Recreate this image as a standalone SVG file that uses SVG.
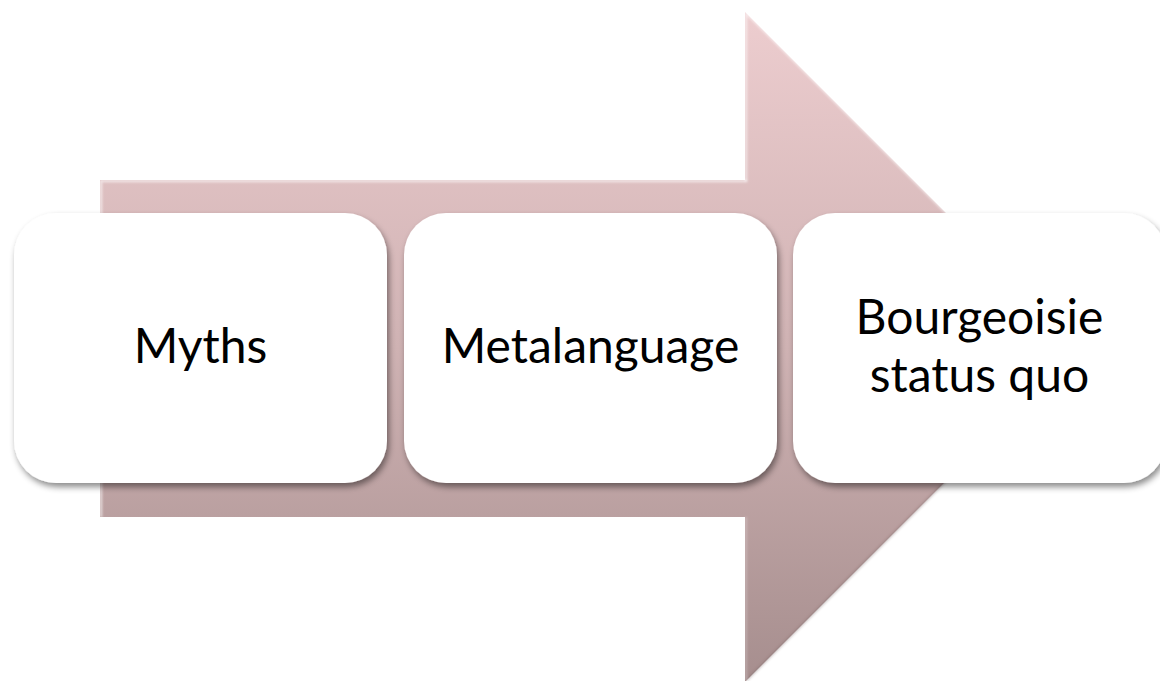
<svg xmlns="http://www.w3.org/2000/svg" width="1160" height="681" viewBox="0 0 1160 681">
  <defs>
    <linearGradient id="arrowFill" gradientUnits="userSpaceOnUse" x1="0" y1="12" x2="0" y2="682">
      <stop offset="0" stop-color="#edcdcf"/>
      <stop offset="0.5" stop-color="#cfb2b3"/>
      <stop offset="1" stop-color="#a68e8e"/>
    </linearGradient>
    <filter id="boxShadow" x="-10%" y="-10%" width="125%" height="130%">
      <feDropShadow dx="2" dy="4" stdDeviation="3" flood-color="#000" flood-opacity="0.45"/>
    </filter>
    <filter id="soft" x="-5%" y="-5%" width="110%" height="110%">
      <feGaussianBlur stdDeviation="0.8"/>
    </filter>
  </defs>
  <style>
    .box { fill: #ffffff; filter: url(#boxShadow); }
    .label { font-family: Lato, "Open Sans", sans-serif; font-size: 48px; fill: #000; text-anchor: middle; }
  </style>

  <!-- background process arrow -->
  <g id="arrow">
    <polygon points="100,180 745,180 745,12 1080,347 745,682 745,517 100,517" fill="url(#arrowFill)"/>
    <!-- bevel highlights on the upper and left edges -->
    <g filter="url(#soft)" fill="none" stroke-linecap="square">
      <polyline points="101,516 101,181 746,181" stroke="#ffffff" stroke-opacity="0.6" stroke-width="2.5"/>
      <polyline points="746,180 746,13 1078,345" stroke="#ffffff" stroke-opacity="0.55" stroke-width="2.5"/>
      <polyline points="1078,349 747,680" stroke="#6e5858" stroke-opacity="0.35" stroke-width="2"/>
      <polyline points="746,518 746,680" stroke="#ffffff" stroke-opacity="0.25" stroke-width="2"/>
    </g>
  </g>

  <g id="node-myths">
    <rect class="box" x="14" y="213" width="373" height="270" rx="42" ry="42"/>
    <text class="label" x="200.5" y="363">Myths</text>
  </g>

  <g id="node-metalanguage">
    <rect class="box" x="404" y="213" width="373" height="270" rx="42" ry="42"/>
    <text class="label" x="590.5" y="363">Metalanguage</text>
  </g>

  <g id="node-bourgeoisie">
    <rect class="box" x="793" y="213" width="373" height="270" rx="42" ry="42"/>
    <text class="label" x="979.5" y="334">Bourgeoisie</text>
    <text class="label" x="979.5" y="392">status quo</text>
  </g>
</svg>
